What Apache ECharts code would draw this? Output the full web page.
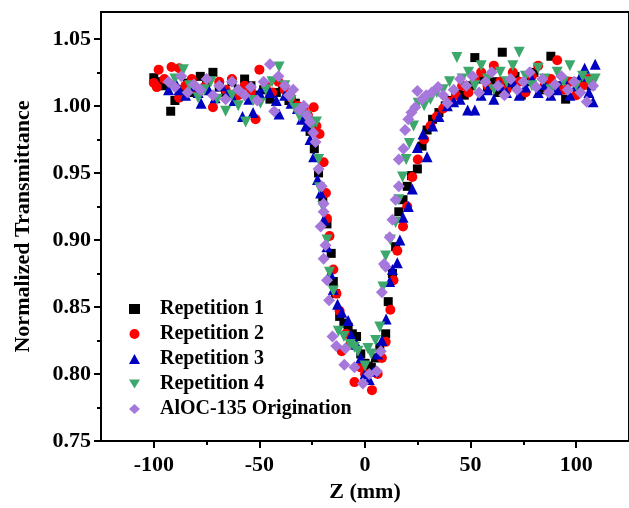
<!DOCTYPE html>
<html>
<head>
<meta charset="utf-8">
<script src="https://cdn.jsdelivr.net/npm/echarts@6/dist/echarts.min.js"></script>
<style>html,body{margin:0;padding:0;background:#fff}#c{width:629px;height:508px}</style>
</head>
<body>
<div id="c"></div>
<script>
const seriesNames = ['Repetition 1', 'Repetition 2', 'Repetition 3', 'Repetition 4', 'AlOC-135 Origination'];
const xMajorTicks = [-100, -50, 0, 50, 100];
const xMinorTicks = [-75, -25, 25, 75];
const yMajorTicks = [0.75, 0.80, 0.85, 0.90, 0.95, 1.00, 1.05];
const yMinorTicks = [0.775, 0.825, 0.875, 0.925, 0.975, 1.025];

const rep1 = [[-100,1.021],[-98,1.018],[-95,1.015],[-92,0.996],[-90,1.004],[-87,1.012],[-84,1.017],[-81,1.010],[-78,1.022],[-75,1.018],[-72,1.025],[-69,1.014],[-66,1.010],[-63,1.018],[-60,1.012],[-57,1.020],[-54,1.015],[-51,1.008],[-48,1.012],[-45,1.005],[-42,1.010],[-39,1.014],[-36,1.004],[-33,1.002],[-30,0.996],[-28,0.990],[-26,0.981],[-24,0.968],[-22,0.950],[-20,0.932],[-18,0.912],[-16,0.890],[-15,0.869],[-14,0.860],[-12,0.843],[-10,0.838],[-8,0.835],[-6,0.830],[-4,0.828],[-2,0.815],[0,0.808],[1.5,0.806],[3,0.805],[5,0.812],[7,0.820],[9.8,0.830],[11,0.854],[13,0.875],[14.5,0.895],[16,0.921],[18,0.930],[20,0.940],[22,0.948],[24.8,0.953],[27,0.970],[29.4,0.982],[32,0.990],[35,0.995],[38,1.000],[41,1.004],[44,1.010],[47,1.008],[50,1.015],[52,1.036],[55,1.020],[58,1.012],[61,1.018],[63,1.010],[65,1.040],[68,1.015],[71,1.022],[74,1.008],[77,1.018],[80,1.025],[83,1.012],[86,1.020],[88,1.037],[91,1.015],[95,1.005],[98,1.018],[101,1.012],[104,1.020],[107,1.015]];

const rep2 = [[-100,1.017],[-98.6,1.014],[-97.7,1.027],[-95,1.020],[-91.6,1.029],[-88,1.028],[-88,1.006],[-85,1.015],[-82,1.020],[-79,1.010],[-76,1.014],[-72,0.999],[-69,1.018],[-66,1.012],[-63,1.020],[-60,1.008],[-57,1.015],[-54,1.010],[-51.8,0.990],[-50,1.027],[-47,1.015],[-44,1.010],[-41,1.018],[-38,1.012],[-35,1.006],[-32,1.000],[-29,0.998],[-27,0.993],[-24.3,0.999],[-23,0.985],[-21.5,0.979],[-19.6,0.958],[-18.5,0.935],[-18,0.916],[-16.8,0.903],[-15,0.878],[-13.5,0.860],[-12,0.847],[-11,0.817],[-9,0.830],[-7,0.822],[-5,0.794],[-2,0.805],[0,0.800],[3.3,0.788],[6,0.800],[8,0.812],[9.8,0.824],[12,0.848],[13.5,0.870],[15.3,0.892],[18,0.910],[20,0.925],[22.4,0.947],[25,0.960],[28,0.975],[31,0.985],[34,0.992],[37,0.998],[40,1.003],[43,1.008],[46,1.015],[49,1.010],[52,1.020],[55,1.025],[58,1.015],[61,1.030],[64,1.018],[67,1.012],[70,1.025],[73,1.018],[76,1.010],[79,1.022],[82,1.030],[85,1.015],[88,1.020],[91,1.034],[94,1.012],[97,1.018],[100,1.008],[103,1.015],[106,1.020]];

const rep3 = [[-93,1.012],[-90,1.018],[-88,1.012],[-85,1.008],[-82,1.015],[-79,1.010],[-77.6,1.002],[-74,1.012],[-71,1.006],[-68,1.015],[-65,1.010],[-62,1.004],[-58,0.992],[-55,1.005],[-53,0.995],[-50,1.010],[-47,1.014],[-45,1.010],[-42,1.004],[-40.7,0.994],[-38,1.008],[-35,1.002],[-32,0.998],[-30,0.990],[-28,0.985],[-26,0.975],[-24.3,0.962],[-22.5,0.945],[-21,0.935],[-19.5,0.915],[-18,0.895],[-16.5,0.875],[-15,0.863],[-13,0.852],[-11,0.846],[-8,0.840],[-6.5,0.829],[-4,0.822],[-2,0.812],[0,0.800],[2,0.796],[4,0.802],[6,0.815],[8,0.825],[10,0.841],[11.7,0.869],[13,0.878],[15.3,0.883],[16.5,0.900],[18,0.917],[20.5,0.925],[22.4,0.938],[24.8,0.969],[27.5,0.979],[29.4,0.962],[32,0.985],[35,0.992],[39,1.000],[42,1.003],[45,1.005],[48.6,0.997],[52,0.997],[55,1.008],[58,1.012],[61,1.005],[64,1.015],[67,1.010],[70,1.018],[73,1.008],[76,1.014],[79,1.020],[82,1.010],[85,1.016],[88,1.008],[91,1.012],[94,1.020],[97,1.008],[100,1.015],[102,1.022],[104,1.028],[106,1.010],[108,1.003],[109,1.031]];

const rep4 = [[-90,1.020],[-86,1.027],[-83,1.015],[-79,1.006],[-76,1.012],[-73,1.018],[-70,1.005],[-66,0.996],[-63,1.008],[-60,1.000],[-56.5,0.988],[-53,1.004],[-49.5,1.002],[-47,1.012],[-44,1.018],[-40.7,1.029],[-38,1.015],[-35,1.004],[-33,0.998],[-31,0.992],[-28,0.992],[-25,0.985],[-23,0.988],[-22,0.960],[-21.5,0.939],[-20,0.925],[-18,0.900],[-16.8,0.876],[-15,0.862],[-12.6,0.832],[-10,0.828],[-7,0.822],[-5,0.820],[-3.3,0.817],[0,0.806],[1.4,0.819],[3,0.815],[5,0.825],[7,0.835],[8.5,0.865],[9.8,0.888],[12,0.900],[14.5,0.913],[16,0.930],[17.8,0.947],[19.5,0.960],[21,0.972],[23,0.985],[25.2,1.002],[28,1.000],[31,1.005],[34,1.010],[37,1.012],[40,1.018],[43.5,1.036],[46,1.020],[49,1.025],[52,1.015],[55,1.030],[58,1.020],[61,1.012],[64,1.025],[67,1.018],[70,1.030],[73,1.040],[76,1.022],[79,1.015],[82,1.028],[85,1.020],[88,1.012],[91,1.025],[94,1.018],[97,1.030],[100,1.015],[103,1.022],[106,1.018],[109,1.020]];

const orig = [[-93,1.018],[-90,1.014],[-87,1.022],[-84,1.010],[-81,1.016],[-78,1.012],[-75,1.020],[-72,1.008],[-69,1.015],[-66,1.005],[-63,1.018],[-60,1.012],[-57,1.008],[-54,1.014],[-51,1.004],[-48,1.018],[-45,1.031],[-43,0.996],[-41,1.022],[-38,1.015],[-36,1.008],[-34,1.012],[-31,0.997],[-29,1.000],[-27.5,0.993],[-26,0.988],[-24.5,0.980],[-23.4,0.973],[-22,0.953],[-20.5,0.940],[-19.6,0.927],[-19.6,0.921],[-21,0.910],[-18.7,0.896],[-19.6,0.886],[-18,0.870],[-17,0.855],[-15.4,0.828],[-13.6,0.821],[-9.8,0.807],[-9.3,0.819],[-5,0.805],[-1,0.793],[2,0.800],[5.6,0.802],[7.5,0.817],[8,0.861],[9,0.882],[9.8,0.880],[11.7,0.902],[13,0.915],[14.5,0.930],[16,0.940],[16,0.960],[18.2,0.968],[19,0.982],[20.5,0.990],[22,0.995],[23.8,0.999],[24.8,1.011],[27,1.005],[29,1.008],[31.6,1.010],[34.6,1.014],[37,1.008],[39,1.002],[42,1.012],[45,1.020],[48,1.015],[51,1.022],[54,1.010],[57,1.018],[60,1.025],[63,1.015],[66,1.008],[69,1.020],[72,1.012],[75,1.018],[78,1.025],[81,1.014],[84,1.020],[87,1.010],[90,1.016],[93,1.022],[96,1.012],[99,1.018],[102,1.010],[105,1.003],[108,1.015]];

const FONT = 'Liberation Serif';
const chart = echarts.init(document.getElementById('c'), null, {renderer: 'canvas'});
const axisCommon = {
  type: 'value',
  splitLine: {show: false},
  axisLine: {show: false, onZero: false},
};
chart.setOption({
  animation: false,
  backgroundColor: '#ffffff',
  grid: {left: 101, top: 12, width: 535, height: 431, show: true, borderColor: '#000', borderWidth: 2, backgroundColor: 'transparent'},
  legend: {
    orient: 'vertical', left: 129, top: 299, padding: 0,
    itemWidth: 11, itemHeight: 10, itemGap: 5,
    textStyle: {fontFamily: FONT, fontWeight: 'bold', fontSize: 20, color: '#000', padding: [0, 0, 0, 15]},
    data: [
      {name: seriesNames[0]},
      {name: seriesNames[1]},
      {name: seriesNames[2]},
      {name: seriesNames[3], icon: 'path://M0,0L12,0L6,10Z'},
      {name: seriesNames[4]}
    ]
  },
  xAxis: [
    Object.assign({}, axisCommon, {
      min: -125, max: 125, position: 'bottom',
      axisLine: {show: true, onZero: false, lineStyle: {color: '#000', width: 2}},
      axisTick: {show: true, inside: false, length: 7, lineStyle: {color: '#000', width: 2}, customValues: xMajorTicks},
      axisLabel: {show: true, margin: 13, customValues: xMajorTicks, fontFamily: FONT, fontWeight: 'bold', fontSize: 22, color: '#000'},
      name: 'Z (mm)', nameLocation: 'middle', nameGap: 35,
      nameTextStyle: {fontFamily: FONT, fontWeight: 'bold', fontSize: 22, color: '#000'}
    }),
    Object.assign({}, axisCommon, {
      min: -125, max: 125, position: 'bottom',
      axisTick: {show: true, inside: false, length: 4, lineStyle: {color: '#000', width: 2}, customValues: xMinorTicks},
      axisLabel: {show: false}
    })
  ],
  yAxis: [
    Object.assign({}, axisCommon, {
      min: 0.75, max: 1.07, position: 'left',
      axisLine: {show: true, onZero: false, lineStyle: {color: '#000', width: 2}},
      axisTick: {show: true, inside: false, length: 7, lineStyle: {color: '#000', width: 2}, customValues: yMajorTicks},
      axisLabel: {show: true, margin: 10, customValues: yMajorTicks, formatter: v => v.toFixed(2), fontFamily: FONT, fontWeight: 'bold', fontSize: 22, color: '#000'},
      name: 'Normalized Transmittance', nameLocation: 'middle', nameGap: 67,
      nameTextStyle: {fontFamily: FONT, fontWeight: 'bold', fontSize: 22, color: '#000'}
    }),
    Object.assign({}, axisCommon, {
      min: 0.75, max: 1.07, position: 'left',
      axisTick: {show: true, inside: false, length: 4, lineStyle: {color: '#000', width: 2}, customValues: yMinorTicks},
      axisLabel: {show: false}
    })
  ],
  series: [
    {name: seriesNames[0], type: 'scatter', data: rep1, symbol: 'rect', symbolSize: 9, itemStyle: {color: '#000000', opacity: 1}},
    {name: seriesNames[1], type: 'scatter', data: rep2, symbol: 'circle', symbolSize: 10, itemStyle: {color: '#ff0000', opacity: 1}},
    {name: seriesNames[2], type: 'scatter', data: rep3, symbol: 'triangle', symbolSize: 11, itemStyle: {color: '#0000c0', opacity: 1}},
    {name: seriesNames[3], type: 'scatter', data: rep4, symbol: 'triangle', symbolRotate: 180, symbolSize: 11, itemStyle: {color: '#3ca86b', opacity: 1}},
    {name: seriesNames[4], type: 'scatter', data: orig, symbol: 'diamond', symbolSize: 12, itemStyle: {color: '#a678dc', opacity: 1}}
  ]
});
</script>
</body>
</html>
